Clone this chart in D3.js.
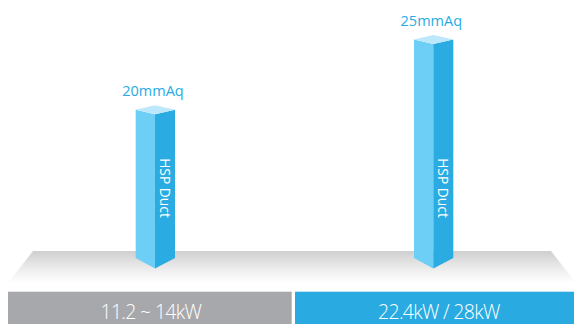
<!DOCTYPE html>
<html>
<head>
<meta charset="utf-8">
<script src="https://cdn.jsdelivr.net/npm/d3@7"></script>
<style>
  html, body { margin: 0; padding: 0; background: #fff; }
  svg { display: block; }
</style>
</head>
<body>
<svg id="chart" width="574" height="324"></svg>
<script>
// ---- data ----
const categories = ["11.2 ~ 14kW", "22.4kW / 28kW"];
const values = [20, 25];
const valueUnit = "mmAq";
const seriesName = "HSP Duct";

// ---- layout ----
const W = 574, H = 324;
const svg = d3.select("#chart");

const boxTop = 291.7, boxBottom = 324;
const x = d3.scaleBand().domain(categories).range([8, 578.7]).paddingInner(0.0115).paddingOuter(0);
const xBar = d3.scalePoint().domain(categories).range([155, 433.3]);
const y = d3.scaleLinear().domain([9, 25]).range([268.5, 44]);

const boxColors = ["#a7a8ab", "#29abe2"];
const cLeft = "#6dcff6", cRight = "#2aabe2", cTop = "#bde7fa";
const halfL = 19.3, halfR = 20, topDy = 4.4, topBack = 9, botDy = 10.5;

// floor
const defs = svg.append("defs");
const g = defs.append("linearGradient").attr("id", "floorGrad").attr("x1", 0).attr("y1", 0).attr("x2", 0).attr("y2", 1);
g.append("stop").attr("offset", 0).attr("stop-color", "#cfcfd0");
g.append("stop").attr("offset", 0.55).attr("stop-color", "#ececec");
g.append("stop").attr("offset", 1).attr("stop-color", "#ffffff");

const floorTop = 251, floorBottom = 283;
svg.append("path")
  .attr("d", `M33,${floorTop} L551,${floorTop} L576,${floorBottom} L8,${floorBottom} Z`)
  .attr("fill", "url(#floorGrad)");

// bottom category boxes
svg.selectAll("rect.box").data(categories).join("rect")
  .attr("class", "box")
  .attr("x", d => x(d))
  .attr("y", boxTop)
  .attr("width", x.bandwidth())
  .attr("height", boxBottom - boxTop)
  .attr("fill", (d, i) => boxColors[i]);

svg.selectAll("text.cat").data(categories).join("text")
  .attr("class", "cat")
  .attr("x", (d, i) => x(d) + x.bandwidth() / 2 + (i === 0 ? 1 : 2))
  .attr("y", 319.3)
  .attr("text-anchor", "middle")
  .attr("fill", "#ffffff")
  .attr("font-family", "'Open Sans', sans-serif")
  .attr("font-weight", 300)
  .attr("font-size", 19.5)
  .attr("letter-spacing", -0.7)
  .text(d => d);

// bars (3D columns)
const base = y.range()[0];
const bars = svg.selectAll("g.bar").data(categories.map((c, i) => ({ c, v: values[i] }))).join("g").attr("class", "bar");

bars.append("path") // left / front face
  .attr("d", d => {
    const cx = xBar(d.c), t = y(d.v);
    return `M${cx - halfL},${t - topDy} L${cx},${t} L${cx},${base} L${cx - halfL},${base - botDy} Z`;
  })
  .attr("fill", cLeft);

bars.append("path") // right face
  .attr("d", d => {
    const cx = xBar(d.c), t = y(d.v);
    return `M${cx},${t} L${cx + halfR},${t - topDy} L${cx + halfR},${base - botDy} L${cx},${base} Z`;
  })
  .attr("fill", cRight);

bars.append("path") // top face
  .attr("d", d => {
    const cx = xBar(d.c), t = y(d.v);
    return `M${cx - halfL},${t - topDy} L${cx},${t - topBack} L${cx + halfR},${t - topDy} L${cx},${t} Z`;
  })
  .attr("fill", cTop);

// value labels
bars.append("text")
  .attr("x", d => xBar(d.c) - 2)
  .attr("y", d => y(d.v) - 18.3)
  .attr("text-anchor", "middle")
  .attr("fill", "#29abe2")
  .attr("font-family", "'Open Sans', sans-serif")
  .attr("font-size", 14.5)
  .text(d => d.v + valueUnit);

// series name, rotated on the right face
bars.append("text")
  .attr("transform", d => `translate(${xBar(d.c) + 4.5},188) rotate(90)`)
  .attr("text-anchor", "middle")
  .attr("fill", "#ffffff")
  .attr("font-family", "'Open Sans', sans-serif")
  .attr("font-size", 13.8)
  .text(seriesName);
</script>
</body>
</html>
